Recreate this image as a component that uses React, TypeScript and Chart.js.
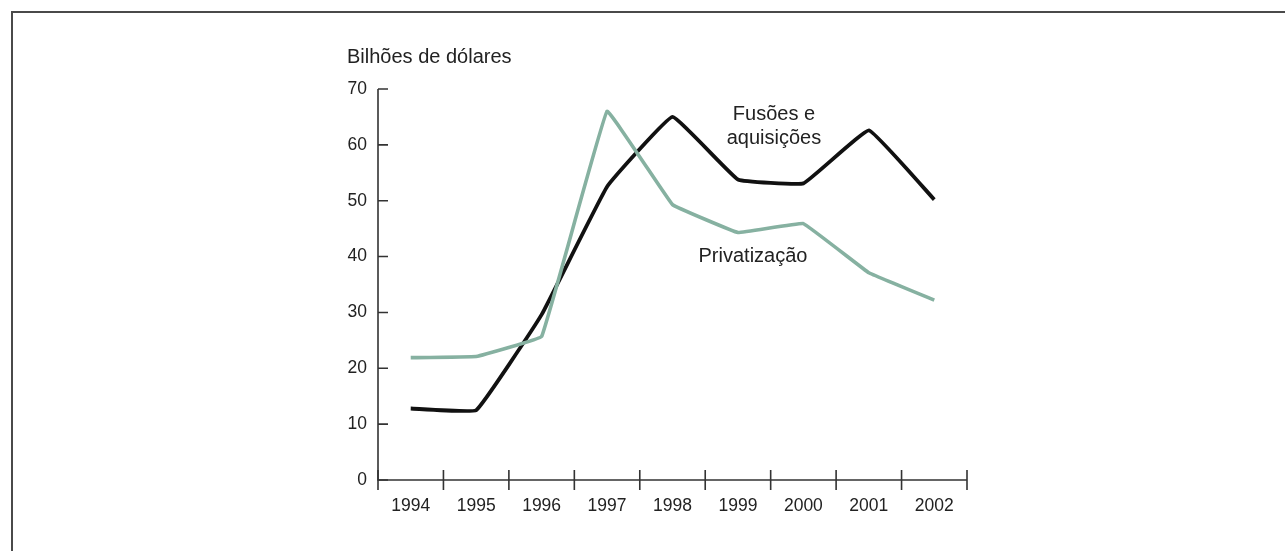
import React, { useEffect, useRef } from "react";
import { Chart, registerables } from "chart.js";

Chart.register(...registerables);

const years = ["1994", "1995", "1996", "1997", "1998", "1999", "2000", "2001", "2002"];
const fusoesAquisicoes = [12.8, 12.5, 29.6, 52.5, 65.0, 53.8, 53.1, 62.6, 50.2];
const privatizacao = [21.9, 22.1, 25.7, 66.0, 49.3, 44.3, 45.9, 37.1, 32.2];
const yTicks = [0, 10, 20, 30, 40, 50, 60, 70];

const unitLabel = "Bilhões de dólares";
const fusoesLabel = ["Fusões e", "aquisições"];
const privLabel = "Privatização";

const FONT = "'Liberation Sans', Arial, Helvetica, sans-serif";
const AXIS_COLOR = "#333333";
const TEXT_COLOR = "#222222";
const GREEN = "#86b1a1";
const BLACK = "#111111";

const decorPlugin = {
  id: "decor",
  beforeDraw(chart: any) {
    const ctx = chart.ctx;
    ctx.save();
    ctx.fillStyle = "#ffffff";
    ctx.fillRect(0, 0, chart.width, chart.height);
    // frame (top and left edges)
    ctx.strokeStyle = "#4a4a4a";
    ctx.lineWidth = 2;
    ctx.beginPath();
    ctx.moveTo(chart.width, 12);
    ctx.lineTo(12, 12);
    ctx.lineTo(12, chart.height);
    ctx.stroke();
    ctx.restore();
  },
  afterDraw(chart: any) {
    const ctx = chart.ctx;
    const x = chart.scales.x;
    const y = chart.scales.y;
    const area = chart.chartArea;
    ctx.save();
    ctx.strokeStyle = AXIS_COLOR;
    ctx.lineWidth = 1.6;
    ctx.lineCap = "butt";
    const y0 = y.getPixelForValue(0);
    // axes
    ctx.beginPath();
    ctx.moveTo(area.left, y.getPixelForValue(70));
    ctx.lineTo(area.left, y0);
    ctx.lineTo(area.right, y0);
    ctx.stroke();
    // y ticks (inward)
    ctx.beginPath();
    yTicks.forEach((v) => {
      const py = y.getPixelForValue(v);
      ctx.moveTo(area.left, py);
      ctx.lineTo(area.left + 10, py);
    });
    ctx.stroke();
    // x ticks (crossing) at category boundaries
    ctx.beginPath();
    for (let i = 0; i <= years.length; i++) {
      const px = x.getPixelForValue(i - 0.5);
      ctx.moveTo(px, y0 - 10);
      ctx.lineTo(px, y0 + 10);
    }
    ctx.stroke();

    // texts
    ctx.fillStyle = TEXT_COLOR;
    ctx.font = `20px ${FONT}`;
    ctx.textBaseline = "middle";
    ctx.textAlign = "left";
    ctx.fillText(unitLabel, area.left - 31, area.top - 32);

    ctx.textAlign = "center";
    const fx = x.getPixelForValue(5.55);
    ctx.fillText(fusoesLabel[0], fx, y.getPixelForValue(65.4));
    ctx.fillText(fusoesLabel[1], fx, y.getPixelForValue(61.1));
    ctx.fillText(privLabel, x.getPixelForValue(5.23), y.getPixelForValue(40.0));
    ctx.restore();
  },
};

export default function App() {
  const ref = useRef<HTMLCanvasElement | null>(null);

  useEffect(() => {
    if (!ref.current) return;
    const chart = new Chart(ref.current, {
      type: "line",
      data: {
        labels: years,
        datasets: [
          {
            label: "Fusões e aquisições",
            data: fusoesAquisicoes,
            borderColor: BLACK,
            borderWidth: 3.8,
            pointRadius: 0,
            tension: 0.08,
            borderJoinStyle: "round",
            borderCapStyle: "butt",
            fill: false,
            order: 2,
          },
          {
            label: "Privatização",
            data: privatizacao,
            borderColor: GREEN,
            borderWidth: 3.6,
            pointRadius: 0,
            tension: 0.05,
            borderJoinStyle: "round",
            borderCapStyle: "butt",
            fill: false,
            order: 1,
          },
        ],
      },
      options: {
        animation: false,
        responsive: false,
        events: [],
        layout: { padding: { left: 318, right: 318, top: 89, bottom: 31 } },
        plugins: {
          legend: { display: false },
          tooltip: { enabled: false },
          title: { display: false },
        },
        scales: {
          x: {
            type: "category",
            offset: true,
            grid: { display: false, drawTicks: false },
            border: { display: false },
            ticks: {
              color: TEXT_COLOR,
              font: { family: FONT, size: 17.5 },
              padding: 16,
              maxRotation: 0,
              autoSkip: false,
            },
            afterFit(scale: any) {
              scale.height = 40;
            },
          },
          y: {
            min: 0,
            max: 70,
            grid: { display: false, drawTicks: false },
            border: { display: false },
            ticks: {
              stepSize: 10,
              color: TEXT_COLOR,
              font: { family: FONT, size: 17.5 },
              padding: 11,
            },
            afterFit(scale: any) {
              scale.width = 60;
            },
          },
        },
      },
      plugins: [decorPlugin],
    });
    return () => chart.destroy();
  }, []);

  return (
    <canvas
      ref={ref}
      width={1285}
      height={551}
      style={{ position: "fixed", left: 0, top: 0, width: 1285, height: 551 }}
    />
  );
}
